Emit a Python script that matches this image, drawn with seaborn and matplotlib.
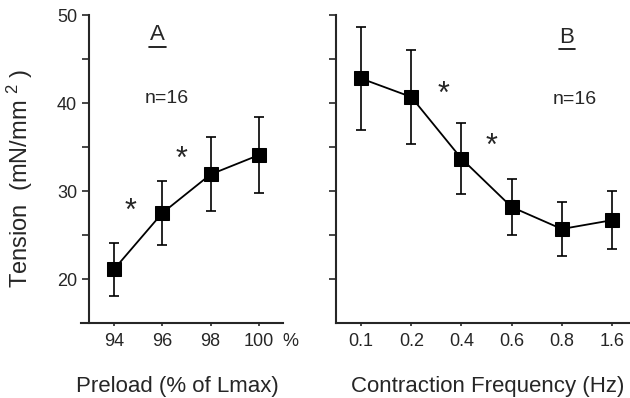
import matplotlib
matplotlib.use('Agg')
import matplotlib.pyplot as plt
import seaborn as sns
import pandas as pd

# panel A: preload
preload = [94, 96, 98, 100]
tension_a = [21.1, 27.5, 31.9, 34.1]
err_a = [3.0, 3.6, 4.2, 4.3]

# panel B: contraction frequency
freq_labels = ['0.1', '0.2', '0.4', '0.6', '0.8', '1.6']
tension_b = [42.8, 40.7, 33.7, 28.2, 25.7, 26.7]
err_b = [5.9, 5.3, 4.0, 3.2, 3.1, 3.3]

yticks = [20, 25, 30, 35, 40, 45, 50]
yticklabels = ['20', '', '30', '', '40', '', '50']

sns.set_style('ticks')
plt.rcParams['font.family'] = ['Liberation Sans', 'DejaVu Sans']
plt.rcParams['mathtext.fontset'] = 'custom'
plt.rcParams['mathtext.rm'] = 'Liberation Sans'
plt.rcParams['mathtext.it'] = 'Liberation Sans'

fig = plt.figure(figsize=(6.3, 3.98), dpi=100)
ax1 = fig.add_axes([81 / 630, 0.188, 202 / 630, 0.774])
ax2 = fig.add_axes([336 / 630, 0.188, 294 / 630, 0.774])

df_a = pd.DataFrame({'x': preload, 'y': tension_a, 'e': err_a})
df_b = pd.DataFrame({'x': range(len(freq_labels)), 'y': tension_b, 'e': err_b})

for ax, d in [(ax1, df_a), (ax2, df_b)]:
    ax.errorbar(d['x'], d['y'], yerr=d['e'], fmt='none', ecolor='black',
                elinewidth=1.2, capsize=3.6, capthick=1.2, zorder=2)
    sns.lineplot(x='x', y='y', data=d, ax=ax, color='black', linewidth=1.3,
                 marker='s', markersize=10, markeredgecolor='black', zorder=3)
    ax.set_ylim(15, 50)
    ax.set_yticks(yticks)
    ax.tick_params(axis='y', length=5, width=1.2, direction='out', labelsize=13)
    ax.tick_params(axis='x', length=2, width=1.2, direction='out', labelsize=13, pad=5)
    for s in ['top', 'right']:
        ax.spines[s].set_visible(False)
    for s in ['left', 'bottom']:
        ax.spines[s].set_linewidth(1.5)

# panel A
ax1.set_xlim(92.64, 101.0)
ax1.spines['left'].set_position(('data', 92.97))
ax1.set_xticks(preload)
ax1.set_yticklabels(yticklabels)
ax1.set_xlabel('Preload (% of Lmax)', fontsize=16, va='top')
ax1.xaxis.set_label_coords(0.475, -0.17)
ax1.set_ylabel(r'Tension  (mN/mm $^{2}$ )', fontsize=17)
ax1.yaxis.set_label_coords(-0.23, 0.47)
ax1.annotate('%', xy=(101.3, 0), xycoords=('data', 'axes fraction'),
             xytext=(0, -7), textcoords='offset points', ha='center', va='top',
             fontsize=13, annotation_clip=False)
ax1.text(95.8, 47.8, 'A', fontsize=16, ha='center', va='center')
ax1.plot([95.45, 96.15], [46.4, 46.4], color='black', linewidth=1.2)
ax1.text(96.2, 40.5, 'n=16', fontsize=14, ha='center', va='center')
ax1.text(94.7, 27.6, '*', fontsize=22, ha='center', va='center')
ax1.text(96.8, 33.6, '*', fontsize=22, ha='center', va='center')

# panel B
ax2.set_xlim(-0.5, 5.36)
ax2.set_xticks(range(len(freq_labels)))
ax2.set_xticklabels(freq_labels)
ax2.set_yticklabels([])
ax2.set_xlabel('Contraction Frequency (Hz)', fontsize=16, va='top')
ax2.xaxis.set_label_coords(0.517, -0.17)
ax2.set_ylabel('')
ax2.text(4.1, 47.5, 'B', fontsize=16, ha='center', va='center')
ax2.plot([3.94, 4.26], [46.1, 46.1], color='black', linewidth=1.2)
ax2.text(4.25, 40.4, 'n=16', fontsize=14, ha='center', va='center')
ax2.text(1.65, 40.9, '*', fontsize=22, ha='center', va='center')
ax2.text(2.6, 35.0, '*', fontsize=22, ha='center', va='center')

fig.savefig('out.png', dpi=100)
